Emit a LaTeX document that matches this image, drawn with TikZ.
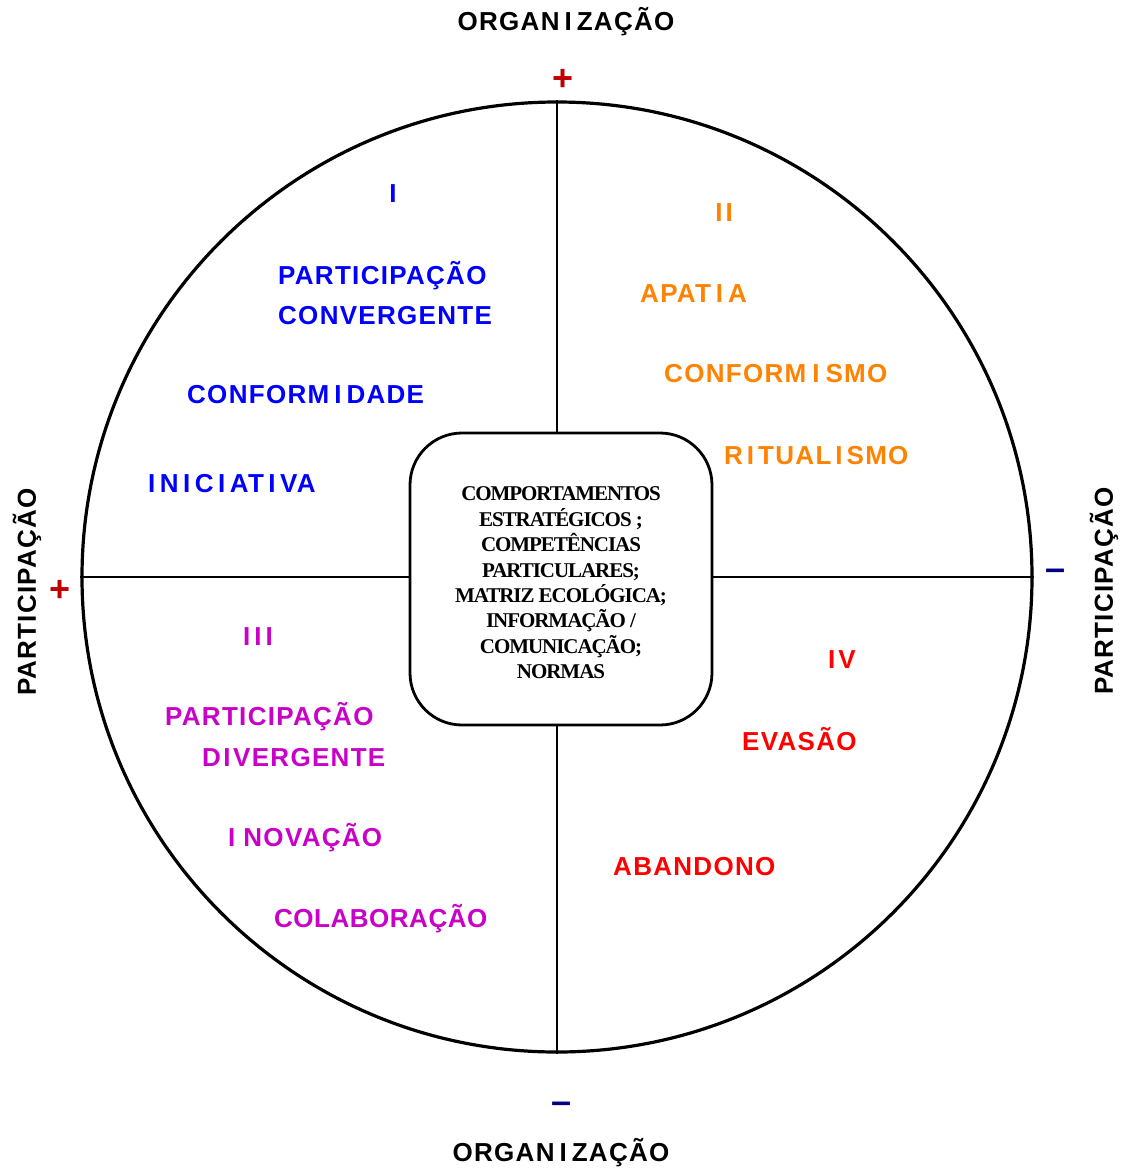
\documentclass[tikz,border=0pt]{standalone}
\usepackage{fontspec}
\setmainfont{Liberation Sans}
\newfontfamily\lblfont[LetterSpace=5]{Liberation Sans}
\newfontfamily\ctrfont[LetterSpace=-5]{Liberation Serif}
\newcommand\Ik[1]{\kern#1pt I\kern#1pt}
\newcommand\Il[1]{I\kern#1pt}
\definecolor{qblue}{HTML}{0000FF}
\definecolor{qorange}{HTML}{FF8200}
\definecolor{qmag}{HTML}{C800C8}
\definecolor{qred}{HTML}{FF0000}
\definecolor{plusred}{HTML}{C00000}
\definecolor{minusnavy}{HTML}{000080}
\tikzset{
  lbl/.style={font=\lblfont\bfseries\fontsize{26}{30}\selectfont, inner sep=0pt, anchor=base west},
  lblc/.style={font=\lblfont\bfseries\fontsize{26}{30}\selectfont, inner sep=0pt, anchor=base},
  axis/.style={font=\lblfont\bfseries\fontsize{26}{30}\selectfont, inner sep=0pt, text=black},
  sign/.style={font=\bfseries\fontsize{36}{36}\selectfont, inner sep=0pt},
  ring/.style={draw=black, line width=3.2pt},
  divider/.style={draw=black, line width=2.8pt},
  core/.style={draw=black, line width=2.8pt, rounded corners=52pt, minimum width=302pt, minimum height=292pt, inner sep=0pt},
  coretext/.style={align=center, inner sep=0pt, font=\ctrfont\bfseries\fontsize{21}{25.4}\selectfont}
}
\begin{document}
\begin{tikzpicture}[x=1pt,y=-1pt]
\useasboundingbox (0,0) rectangle (1125,1168);
% ring
\node[ring, circle, minimum size=950pt, inner sep=0pt] (ring) at (557,577) {};
% central box
\node[core] (core) at (561,579) {};
\node[coretext] (coretxt) at (561,583) {COMPORTAMENTOS\\ESTRATÉGICOS ;\\COMPETÊNCIAS\\PARTICULARES;\\MATRIZ ECOLÓGICA;\\INFORMAÇÃO /\\COMUNICAÇÃO;\\NORMAS};
% dividers
\coordinate (ctop) at (557,433);
\coordinate (cbot) at (557,725);
\coordinate (cleft) at (410,577);
\coordinate (cright) at (712,577);
\draw[divider] (ring.north) -- (ctop);
\draw[divider] (ring.south) -- (cbot);
\draw[divider] (ring.west) -- (cleft);
\draw[divider] (ring.east) -- (cright);
% axis labels
\node[axis] (orgtop) at (566,22) {ORGAN\Ik{5}ZAÇÃO};
\node[axis] (orgbot) at (561,1153) {ORGAN\Ik{5}ZAÇÃO};
\node[axis, rotate=90] (partl) at (27,592) {PART\Ik{1.2}C\Ik{1.2}PAÇÃO};
\node[axis, rotate=90] (partr) at (1104,591) {PART\Ik{1.2}C\Ik{1.2}PAÇÃO};
% signs
\node[sign, text=plusred] (ptop) at (563,80) {+};
\node[sign, text=plusred] (pleft) at (60,591) {+};
\node[sign, text=minusnavy] (mright) at (1056,575) {–};
\node[sign, text=minusnavy] (mbot) at (562,1108) {–};
% quadrant I
\node[lblc, text=qblue] (q1) at (393,202) {I};
\node[lbl, text=qblue] (q1a) at (278,284) {PART\Ik{1.3}C\Ik{1.3}PAÇÃO};
\node[lbl, text=qblue] (q1b) at (278,324) {CONVERGENTE};
\node[lbl, text=qblue] (q1c) at (187,403) {CONFORM\Ik{5}DADE};
\node[lbl, text=qblue] (q1d) at (148,492) {\Il{4.5}N\Ik{4.5}C\Ik{4.5}AT\Ik{4.5}VA};
% quadrant II
\node[lblc, text=qorange] (q2) at (724,221) {\Il{3}I};
\node[lbl, text=qorange] (q2a) at (640,302) {APAT\Ik{5}A};
\node[lbl, text=qorange] (q2b) at (664,382) {CONFORM\Ik{6}SMO};
\node[lbl, text=qorange] (q2c) at (724,464) {R\Ik{4}TUAL\Ik{4}SMO};
% quadrant III
\node[lblc, text=qmag] (q3) at (258,645) {\Il{4}\Il{4}I};
\node[lbl, text=qmag] (q3a) at (165,725) {PART\Ik{1.3}C\Ik{1.3}PAÇÃO};
\node[lbl, text=qmag] (q3b) at (202,766) {D\Ik{2.5}VERGENTE};
\node[lbl, text=qmag] (q3c) at (228,846) {\Il{8}NOVAÇÃO};
\node[lbl, text=qmag] (q3d) at (274,927) {\addfontfeature{LetterSpace=2}COLABORAÇÃO};
% quadrant IV
\node[lblc, text=qred] (q4) at (842,668) {\Il{3}V};
\node[lbl, text=qred] (q4a) at (742,750) {EVASÃO};
\node[lbl, text=qred] (q4b) at (613,875) {ABANDONO};
\end{tikzpicture}
\end{document}
